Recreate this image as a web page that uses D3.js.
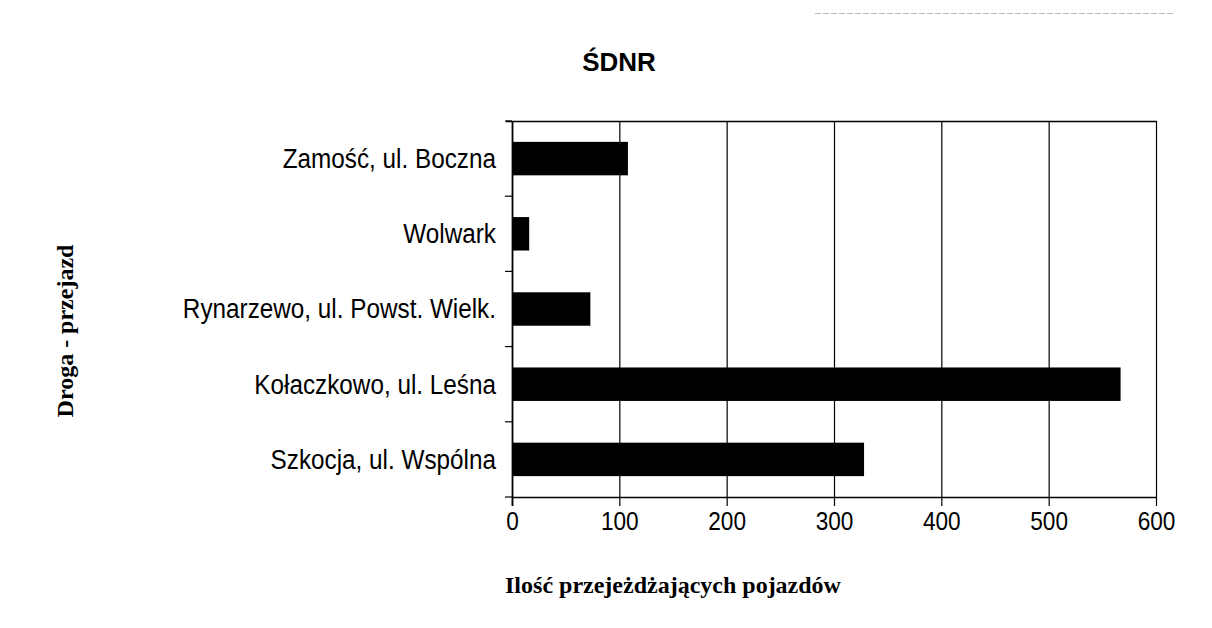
<!DOCTYPE html>
<html><head><meta charset="utf-8">
<script src="https://cdn.jsdelivr.net/npm/d3@7/dist/d3.min.js"></script>
<style>
body{margin:0;background:#fff;}
svg{display:block;}
</style></head>
<body><svg id="c" width="1212" height="628"></svg>
<script>
const categories = ["Zamość, ul. Boczna","Wolwark","Rynarzewo, ul. Powst. Wielk.","Kołaczkowo, ul. Leśna","Szkocja, ul. Wspólna"];
const values = [108, 16, 73, 567, 328];
const xTicks = [0,100,200,300,400,500,600];
const title = "ŚDNR";
const xTitle = "Ilość przejeżdżających pojazdów";
const yTitle = "Droga - przejazd";

const svg = d3.select("#c");
const m = {left:512, right:1156, top:121, bottom:497};
const x = d3.scaleLinear().domain([0,600]).range([m.left, m.right]);
const y = d3.scaleBand().domain(categories).range([m.top, m.bottom]).paddingInner(0.555).paddingOuter(0.2775);
const sans = "Liberation Sans, Arial, sans-serif";
const serif = "Liberation Serif, Times New Roman, serif";

// faint scan line at top
svg.append("line").attr("x1",815).attr("x2",1175).attr("y1",13.5).attr("y2",13.5)
  .attr("stroke","#bbb").attr("stroke-width",1).attr("stroke-dasharray","6,2");

// gridlines
svg.append("g").selectAll("line").data(xTicks.slice(1)).join("line")
  .attr("x1",d=>x(d)+0.5).attr("x2",d=>x(d)+0.5).attr("y1",m.top).attr("y2",m.bottom)
  .attr("stroke","#000").attr("stroke-width",1.2);
// top border
svg.append("line").attr("x1",m.left-6).attr("x2",m.right+0.5).attr("y1",m.top+0.5).attr("y2",m.top+0.5)
  .attr("stroke","#000").attr("stroke-width",1.5);

// bars
svg.append("g").selectAll("rect").data(values).join("rect")
  .attr("x",x(0)).attr("y",(d,i)=>y(categories[i]))
  .attr("width",d=>x(d)-x(0)).attr("height",y.bandwidth()).attr("fill","#000");

// x axis
const xa = svg.append("g").attr("transform",`translate(0,${m.bottom})`)
  .call(d3.axisBottom(x).tickValues(xTicks).tickSize(9).tickPadding(6).tickSizeOuter(0));
xa.select(".domain").attr("stroke-width",1.5);
xa.selectAll(".tick line").attr("stroke-width",1.2);
xa.selectAll("text").attr("font-family",sans).attr("font-size",26).attr("fill","#000")
  .attr("transform","scale(0.87,1)");

// y axis
const yTicksPos = d3.range(categories.length+1).map(i=>m.top + i*(m.bottom-m.top)/categories.length);
svg.append("line").attr("x1",m.left+0.5).attr("x2",m.left+0.5).attr("y1",m.top).attr("y2",m.bottom+9).attr("stroke","#000").attr("stroke-width",1.8);
svg.append("g").selectAll("line").data(yTicksPos).join("line")
  .attr("x1",m.left-7).attr("x2",m.left).attr("y1",d=>d).attr("y2",d=>d).attr("stroke","#000").attr("stroke-width",1.2);
svg.append("g").selectAll("text").data(categories).join("text")
  .attr("transform",d=>`translate(496,${y(d)+y.bandwidth()/2}) scale(0.9,1)`).attr("dy","0.35em")
  .attr("text-anchor","end").attr("font-family",sans).attr("font-size",27)
  .text(d=>d);

// titles
svg.append("text").attr("x",619).attr("y",71).attr("text-anchor","middle")
  .attr("font-family",sans).attr("font-weight","bold").attr("font-size",26).text(title);
svg.append("text").attr("x",673).attr("y",593).attr("text-anchor","middle")
  .attr("font-family",serif).attr("font-weight","bold").attr("font-size",24).text(xTitle);
svg.append("text").attr("transform","translate(73,331) rotate(-90)").attr("text-anchor","middle")
  .attr("font-family",serif).attr("font-weight","bold").attr("font-size",24).text(yTitle);
</script></body></html>
